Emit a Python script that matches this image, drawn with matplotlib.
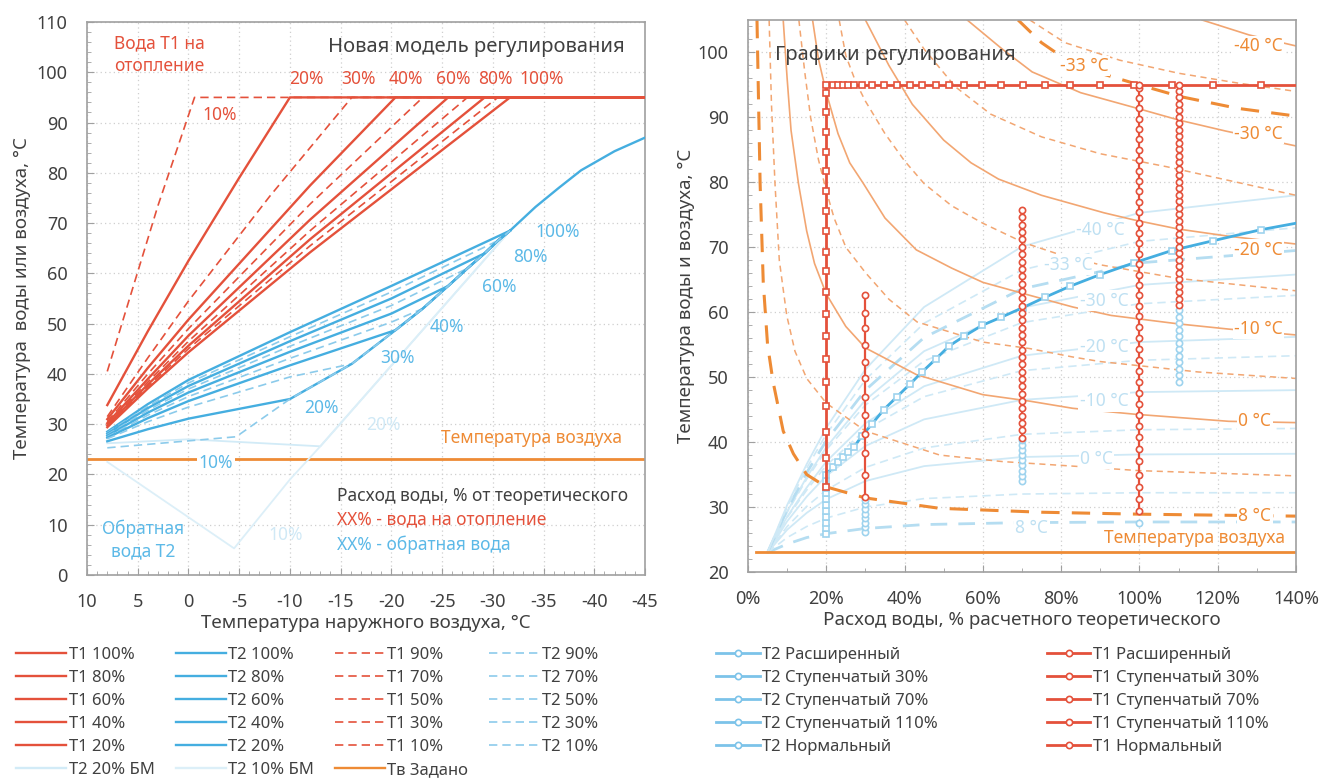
import matplotlib
matplotlib.use('Agg')
import matplotlib.pyplot as plt
from matplotlib.lines import Line2D
from matplotlib.ticker import MultipleLocator, FuncFormatter

plt.rcParams['font.family'] = ['Noto Sans', 'DejaVu Sans']
plt.rcParams['axes.unicode_minus'] = False

RED = '#E4513B'
BLUE = '#45AEE0'
BLUE_D = '#8CCBEB'
BLUE_BM = '#D2EBF7'
ORANGE = '#EE8B35'
ORANGE_T = '#F2A672'
GREY = '#404040'

# ---------------- left chart data: outdoor temp -> water temp ----------------
pcts = [100, 90, 80, 70, 60, 50, 40, 30, 20, 10]

t1_x = {
    100: [8, 4, 0, -12, -31.7, -45],
    90: [8, 4, 0, -12, -30.5, -45],
    80: [8, 4, 0, -12, -29.2, -45],
    70: [8, 4, 0, -12, -27.5, -45],
    60: [8, 4, 0, -12, -25.6, -45],
    50: [8, 4, 0, -12, -23.1, -45],
    40: [8, 4, 0, -12, -20.4, -45],
    30: [8, 4, 0, -8, -16.1, -45],
    20: [8, 4, 0, -5, -10, -45],
    10: [8, 3, -0.6, -45],
}
t1_y = {
    100: [29.4, 37.1, 44.3, 64.2, 95, 95],
    90: [29.6, 37.5, 45.0, 65.5, 95, 95],
    80: [29.8, 37.9, 45.6, 66.8, 95, 95],
    70: [30.0, 38.4, 46.5, 68.5, 95, 95],
    60: [30.2, 39.0, 47.6, 70.7, 95, 95],
    50: [30.5, 40.0, 49.0, 73.8, 95, 95],
    40: [31.0, 41.2, 50.8, 77.5, 95, 95],
    30: [31.5, 43.2, 54.5, 75.3, 95, 95],
    20: [33.8, 48.5, 62.5, 79.0, 95, 95],
    10: [40.5, 73.5, 95, 95],
}

# return water: own part before the kink, then common envelope
env_x = [-10, -16.1, -20.4, -23.1, -25.6, -27.5, -29.2, -30.5, -31.7]
env_y = [35.0, 42.0, 48.7, 53.0, 57.5, 61.0, 64.0, 66.5, 68.5]
t2_x = {
    100: [8, 4, 0, -10, -20, -31.7, -34.2, -36.5, -38.7, -42, -45],
    90: [8, 4, 0, -10, -20, -30.5],
    80: [8, 4, 0, -10, -20, -29.2],
    70: [8, 4, 0, -10, -20, -27.5],
    60: [8, 4, 0, -10, -20, -25.6],
    50: [8, 4, 0, -10, -20, -23.1],
    40: [8, 4, 0, -10, -20.4],
    30: [8, 4, 0, -10, -16.1],
    20: [8, 4, 0, -10],
    10: [8, -4.7, -10],
}
t2_y = {
    100: [28.5, 34.0, 38.8, 48.3, 57.5, 68.5, 73.2, 77.0, 80.5, 84.3, 87.0],
    90: [28.3, 33.6, 38.2, 47.4, 56.3, 66.5],
    80: [28.1, 33.2, 37.6, 46.5, 55.0, 64.0],
    70: [27.9, 32.8, 37.0, 45.5, 53.6, 61.0],
    60: [27.7, 32.3, 36.3, 44.4, 52.0, 57.5],
    50: [27.5, 31.8, 35.5, 43.1, 50.3, 53.0],
    40: [27.3, 31.2, 34.6, 41.7, 48.7],
    30: [27.1, 30.5, 33.4, 39.4, 42.0],
    20: [26.6, 29.0, 31.1, 35.0],
    10: [25.3, 27.5, 35.0],
}

bm20_x = [8, 0, -13, -31.7]
bm20_y = [26.2, 27.0, 25.6, 68.5]
bm10_x = [8, -4.5, -10, -13, -31.7]
bm10_y = [22.5, 5.3, 19.0, 25.6, 68.5]
air_temp = 23

# ---------------- right chart data: flow % -> water temp ----------------
# supply temperature needed at given outdoor temperature (orange family)
or_x = {
    8: [2.3, 3.1, 3.9, 5, 6.4, 9, 11.6, 15, 20, 30, 49, 75, 100, 140],
    5: [5.4, 6, 6.9, 8, 9.9, 12, 15, 20, 30, 49, 65, 83, 100, 140],
    0: [9, 10, 11, 12.9, 15, 17, 20, 25, 30, 43, 60, 72, 83, 98.7, 122.8, 140],
    -5: [13, 14.5, 16, 18, 20, 22, 25, 30, 36, 43.2, 60, 72, 83, 90, 115, 140],
    -10: [16.5, 18, 20, 23, 26, 29.5, 35, 43, 52, 60, 72, 83, 92.8, 110, 122.8, 140],
    -15: [23.3, 25, 27.5, 30, 35, 40, 45, 52, 60, 70.5, 80, 90, 110, 140],
    -20: [30, 33, 36, 42, 50, 57, 64, 75, 91, 98.7, 110, 122.8, 140],
    -25: [40, 45, 53, 62, 75, 90, 107, 125, 140],
    -30: [56, 65, 72.6, 85, 100, 110, 122, 140],
    -33: [69, 75, 81, 90, 100, 110.5, 125, 140],
    -35: [72, 81, 95, 110, 125, 140],
    -40: [116, 128, 140],
}
or_y = {
    8: [105, 79.8, 64.6, 55, 49.3, 41.7, 38.2, 35, 33.1, 31.4, 29.8, 29.2, 28.9, 28.6],
    5: [105, 92, 79.8, 68, 59.5, 54, 49.8, 46, 41.7, 38, 37, 36.3, 35.6, 34.8],
    0: [105, 96, 88, 79.8, 72.5, 67.5, 62.8, 57.8, 54.5, 50.4, 47.3, 46.3, 45.2, 44.3, 43.2, 43],
    -5: [105, 97, 90, 83.5, 78.7, 74.5, 70, 66.1, 62, 58.5, 55.4, 54.4, 53.1, 52.4, 50.8, 49.8],
    -10: [105, 99, 93.8, 87.5, 83, 79.8, 74.5, 69.6, 66.8, 64.6, 62.6, 60.8, 59.5, 58.2, 57.4, 56.5],
    -15: [105, 99.5, 95.5, 92.5, 87.5, 83.3, 79.8, 76.4, 73.7, 70.7, 68.8, 67.3, 65.2, 63.3],
    -20: [105, 101.5, 98, 92, 86.5, 83, 80.5, 78, 75.3, 74.2, 72.8, 71.7, 70.5],
    -25: [105, 100.5, 94.7, 90.5, 87, 84.4, 82.4, 80, 78],
    -30: [105, 100.5, 97, 93.8, 91.3, 89.6, 87.9, 85.6],
    -33: [105, 101.5, 99, 96.8, 95, 93.2, 91.4, 90.2],
    -35: [105, 101.5, 98.8, 96.8, 95.3, 94],
    -40: [105, 102.7, 101],
}
or_style = {8: 'thick', 5: 'dash', 0: 'solid', -5: 'dash', -10: 'solid', -15: 'dash',
            -20: 'solid', -25: 'dash', -30: 'solid', -33: 'thick', -35: 'dash', -40: 'solid'}

# return temperature at given outdoor temperature (light blue family)
bl_x = [5, 10, 15, 20, 30, 45, 70, 100, 140]
bl_y = {
    8: [23, 24.3, 25.3, 25.9, 26.7, 27.3, 27.6, 27.7, 27.7],
    5: [23, 25.3, 27.0, 28.3, 30.0, 31.3, 32.0, 32.2, 32.2],
    0: [23, 26.5, 29.1, 31.2, 34.0, 36.3, 37.7, 38.1, 38.2],
    -5: [23, 27.0, 30.1, 32.6, 36.1, 39.1, 41.2, 41.9, 42.1],
    -10: [23, 27.8, 31.6, 34.8, 39.4, 43.5, 46.5, 47.7, 48.0],
    -15: [23, 28.4, 32.6, 36.4, 41.9, 47.0, 51.0, 52.6, 53.3],
    -20: [23, 28.5, 33.0, 37.0, 42.9, 48.6, 53.3, 55.4, 56.2],
    -25: [23, 29.2, 34.3, 38.8, 45.7, 52.5, 58.4, 61.3, 62.6],
    -30: [23, 29.3, 34.6, 39.2, 46.5, 54.0, 60.7, 64.2, 65.8],
    -33: [23, 29.6, 35.3, 40.2, 48.0, 56.1, 63.6, 67.6, 69.5],
    -35: [23, 30.0, 36.0, 41.2, 49.6, 58.3, 66.5, 70.9, 73.0],
    -40: [23, 30.3, 36.6, 42.2, 51.2, 60.8, 70.1, 75.3, 78.0],
}

# regulation schedules
ras_flows = [21.6, 22.9, 24.2, 25.5, 27.0, 29.2, 31.7, 34.7, 38.1, 41.5, 44.5, 48.0,
             51.4, 55.2, 59.9, 64.6, 70.2, 75.9, 82.3, 90.0, 98.6, 108.3, 118.8, 131.0]
t1_ras_vert = [33.1, 37.5, 41.6, 45.5, 49.3, 52.8, 56.3, 59.7, 63.1, 66.3, 69.3, 72.5,
               75.6, 78.7, 81.7, 84.7, 87.8, 90.8, 93.8, 95.0]
t2_ras_vert = [25.8, 26.7, 27.6, 28.5, 29.4, 30.3, 31.2, 32.1, 33.0, 34.0, 35.0]
t2_ras_curve = [36.1, 36.9, 37.7, 38.4, 39.2, 41.0, 42.8, 45.0, 47.0, 49.0, 50.8, 52.8,
                54.8, 56.3, 58.0, 59.2, 60.7, 62.3, 64.0, 65.8, 67.6, 69.5, 71.0, 72.7]
t2_ras_end = 73.7

t1_st30 = [31.5, 35.0, 38.3, 41.3, 44.2, 47.0, 49.8, 52.4, 54.9, 57.5, 59.9, 62.6]
t2_st30 = [26.2, 26.9, 27.6, 28.3, 29.0, 29.7, 30.4, 31.1]
t1_st70 = [40.7, 41.8, 42.9, 44.0, 45.2, 46.3, 47.4, 48.6, 49.7, 50.8, 52.0, 53.1, 54.2,
           55.4, 56.5, 57.6, 58.8, 59.9, 61.0, 62.2, 63.3, 64.4, 65.6, 66.7, 67.8, 69.0,
           70.1, 71.2, 72.4, 73.5, 74.6, 75.8]
t2_st70 = [34.0, 34.8, 35.6, 36.4, 37.2, 38.0, 38.8, 39.6, 40.3]
t1_st110 = [61.1, 62.1, 63.1, 64.1, 65.1, 66.1, 67.1, 68.1, 69.1, 70.1, 71.1, 72.1, 73.1,
            74.1, 75.1, 76.1, 77.1, 78.1, 79.1, 80.1, 81.1, 82.1, 83.1, 84.1, 85.1, 86.1,
            87.1, 88.1, 89.1, 90.1, 91.1, 92.1, 93.1, 94.1, 95.0]
t2_st110 = [49.3, 50.3, 51.3, 52.3, 53.3, 54.3, 55.3, 56.3, 57.3, 58.3, 59.3, 60.3]
t1_norm = [29.4, 31.2, 33.1, 35.0, 37.1, 39.0, 40.8, 42.5, 44.2, 45.9, 47.6, 49.3, 51.0,
           52.7, 54.4, 56.0, 57.7, 59.4, 61.0, 62.6, 64.2, 65.8, 67.4, 69.0, 70.6, 72.2,
           73.8, 75.4, 77.0, 78.6, 80.2, 81.8, 83.4, 85.0, 86.6, 88.2, 89.8, 91.4, 93.0,
           94.6, 95.0]
t2_norm = [27.5]

# ======================================================================
fig = plt.figure(figsize=(13.22, 7.8), dpi=100)


def style_axes(ax):
    for s in ax.spines.values():
        s.set_color('#A0A0A0')
        s.set_linewidth(1.2)
    ax.grid(True, which='major', linestyle=(0, (1, 2.5)), color='#CFCFCF', lw=0.9)
    ax.set_axisbelow(True)
    ax.tick_params(which='both', direction='in', colors='#A0A0A0', labelcolor=GREY,
                   labelsize=13)
    ax.tick_params(which='major', length=5)
    ax.tick_params(which='minor', length=3)
    ax.tick_params(axis='x', which='major', pad=13)
    ax.tick_params(axis='y', which='major', pad=14)


# ---------------- left ----------------
ax1 = fig.add_axes([0.0658, 0.2628, 0.4221, 0.7090])
ax1.set_xlim(10, -45)
ax1.set_ylim(0, 110)
ax1.xaxis.set_major_locator(MultipleLocator(5))
ax1.xaxis.set_minor_locator(MultipleLocator(1))
ax1.yaxis.set_major_locator(MultipleLocator(10))
ax1.yaxis.set_minor_locator(MultipleLocator(2))
style_axes(ax1)

ax1.axhline(air_temp, color=ORANGE, lw=2, zorder=2)
ax1.plot(bm20_x, bm20_y, color=BLUE_BM, lw=1.3, zorder=2)
ax1.plot(bm10_x, bm10_y, color='#DCEFF8', lw=1.3, zorder=2)

h_t1, h_t2 = {}, {}
for p in pcts:
    solid = p % 20 == 0
    xs = t2_x[p]
    ys = t2_y[p]
    if p != 100:
        last = xs[-1]
        tail = [i for i, e in enumerate(env_x) if e < last - 1e-9]
        xs = xs + [env_x[i] for i in tail]
        ys = ys + [env_y[i] for i in tail]
    if solid:
        h_t2[p], = ax1.plot(xs, ys, color=BLUE, lw=1.7, zorder=3)
        h_t1[p], = ax1.plot(t1_x[p], t1_y[p], color=RED, lw=1.7, zorder=4)
    else:
        h_t2[p], = ax1.plot(xs, ys, color=BLUE_D, lw=1.2, ls=(0, (5, 3)), zorder=3)
        h_t1[p], = ax1.plot(t1_x[p], t1_y[p], color=RED, lw=1.2, ls=(0, (5, 3)), zorder=4)

fs = 12.5
ax1.text(7.3, 107.5, 'Вода Т1 на\nотопление', color=RED, fontsize=fs, va='top',
         ha='left', linespacing=1.3)
ax1.text(-43, 105, 'Новая модель регулирования', color=GREY, fontsize=14.5,
         ha='right', va='center')
for lab, xx in [('20%', -11.6), ('30%', -16.8), ('40%', -21.4), ('60%', -26.1),
                ('80%', -30.3), ('100%', -34.8)]:
    ax1.text(xx, 98.6, lab, color=RED, fontsize=fs, ha='center', va='center')
ax1.text(-3.1, 91.5, '10%', color=RED, fontsize=fs, ha='center', va='center')
for lab, xx, yy in [('100%', -36.4, 68.2), ('80%', -33.7, 63.2), ('60%', -30.6, 57.3),
                    ('40%', -25.5, 49.3), ('30%', -20.6, 43.1), ('20%', -13.1, 33.2)]:
    ax1.text(xx, yy, lab, color='#5CB9E7', fontsize=fs, ha='center', va='center')
ax1.text(-2.7, 22.3, '10%', color='#5CB9E7', fontsize=fs, ha='center', va='center',
         bbox=dict(facecolor='white', edgecolor='none', pad=1.5), zorder=5)
ax1.text(-19.2, 29.8, '20%', color='#D0E9F6', fontsize=fs, ha='center', va='center')
ax1.text(-9.6, 8, '10%', color='#D0E9F6', fontsize=fs, ha='center', va='center')
ax1.text(-33.8, 27.2, 'Температура воздуха', color=ORANGE, fontsize=fs, ha='center',
         va='center')
ax1.text(-14.6, 15.7, 'Расход воды, % от теоретического', color=GREY, fontsize=fs,
         ha='left', va='center')
ax1.text(-14.6, 11.0, 'XX% - вода на отопление', color=RED, fontsize=fs, ha='left',
         va='center')
ax1.text(-14.6, 6.1, 'XX% - обратная вода', color='#5CB9E7', fontsize=fs, ha='left',
         va='center')
ax1.text(4.5, 7.0, 'Обратная\nвода Т2', color='#5CB9E7', fontsize=fs, ha='center',
         va='center', linespacing=1.3)

ax1.set_xlabel('Температура наружного воздуха, °C', fontsize=13.5, color=GREY,
               labelpad=2)
ax1.set_ylabel('Температура  воды или воздуха, °C', fontsize=13.5, color=GREY,
               labelpad=4)

# left legend, column-major so the rows read like the original
h_bm20 = Line2D([], [], color=BLUE_BM, lw=1.7)
h_bm10 = Line2D([], [], color='#DCEFF8', lw=1.7)
h_air = Line2D([], [], color=ORANGE, lw=1.7)
leg_h = [h_t1[100], h_t1[80], h_t1[60], h_t1[40], h_t1[20], h_bm20,
         h_t2[100], h_t2[80], h_t2[60], h_t2[40], h_t2[20], h_bm10,
         h_t1[90], h_t1[70], h_t1[50], h_t1[30], h_t1[10], h_air,
         h_t2[90], h_t2[70], h_t2[50], h_t2[30], h_t2[10]]
leg_l = ['T1 100%', 'T1 80%', 'T1 60%', 'T1 40%', 'T1 20%', 'T2 20% БМ',
         'T2 100%', 'T2 80%', 'T2 60%', 'T2 40%', 'T2 20%', 'T2 10% БМ',
         'T1 90%', 'T1 70%', 'T1 50%', 'T1 30%', 'T1 10%', 'Тв Задано',
         'T2 90%', 'T2 70%', 'T2 50%', 'T2 30%', 'T2 10%']
fig.legend(leg_h, leg_l, loc='upper left', bbox_to_anchor=(8 / 1322, 1 - 639 / 780),
           ncol=4, frameon=False, fontsize=12, handlelength=3.0, handletextpad=0.15,
           columnspacing=1.25, labelspacing=0.42, borderpad=0, labelcolor=GREY)

# ---------------- right ----------------
ax2 = fig.add_axes([0.5658, 0.2667, 0.4145, 0.7077])
ax2.set_xlim(0, 140)
ax2.set_ylim(20, 105)
ax2.xaxis.set_major_locator(MultipleLocator(20))
ax2.xaxis.set_minor_locator(MultipleLocator(10))
ax2.yaxis.set_major_locator(MultipleLocator(10))
ax2.yaxis.set_minor_locator(MultipleLocator(2))
ax2.xaxis.set_major_formatter(FuncFormatter(lambda v, _: f'{v:.0f}%'))
style_axes(ax2)

for t, ys in bl_y.items():
    st = or_style[t]
    if st == 'thick':
        ax2.plot(bl_x, ys, color='#B5DDF1', lw=2.0, ls=(0, (6, 4)), zorder=1)
    elif st == 'dash':
        ax2.plot(bl_x, ys, color='#CFE9F6', lw=1.2, ls=(0, (5, 3)), zorder=1)
    else:
        ax2.plot(bl_x, ys, color='#CFE9F6', lw=1.3, zorder=1)

for t in or_x:
    st = or_style[t]
    if st == 'thick':
        ax2.plot(or_x[t], or_y[t], color=ORANGE, lw=2.2, ls=(0, (6, 4)), zorder=1.5)
    elif st == 'dash':
        ax2.plot(or_x[t], or_y[t], color=ORANGE_T, lw=1.1, ls=(0, (4, 3)), zorder=1.5)
    else:
        ax2.plot(or_x[t], or_y[t], color=ORANGE_T, lw=1.2, zorder=1.5)

ax2.plot([2, 140], [air_temp, air_temp], color=ORANGE, lw=2, zorder=2)

lbl_box = dict(facecolor='white', edgecolor='none', pad=1.0)
for lab, xx, yy in [('-40 °C', 130.5, 101.0), ('-30 °C', 130.5, 87.5),
                    ('-20 °C', 130.5, 69.6), ('-10 °C', 130.5, 57.4),
                    ('0 °C', 129.5, 43.3), ('8 °C', 129.5, 28.6), ('-33 °C', 86, 97.9)]:
    ax2.text(xx, yy, lab, color=ORANGE, fontsize=12.5, ha='center', va='center',
             bbox=lbl_box, zorder=3)
for lab, xx, yy in [('-40 °C', 90, 72.7), ('-33 °C', 81.8, 67.3), ('-30 °C', 91, 61.8),
                    ('-20 °C', 91, 54.7), ('-10 °C', 91, 46.3), ('0 °C', 89, 37.4),
                    ('8 °C', 72.5, 26.8)]:
    ax2.text(xx, yy, lab, color='#BEE0F2', fontsize=12.5, ha='center', va='center',
             bbox=lbl_box, zorder=3)
ax2.text(114, 25.3, 'Температура воздуха', color=ORANGE, fontsize=12.5, ha='center',
         va='center', zorder=3)
ax2.text(7, 99.6, 'Графики регулирования', color=GREY, fontsize=14.5, ha='left',
         va='center', zorder=3)

mk = dict(markerfacecolor='white', markeredgewidth=1.2)
lb = '#9ED3EE'
h_b_ras, = ax2.plot([20] * len(t2_ras_vert) + ras_flows + [140],
                    t2_ras_vert + t2_ras_curve + [t2_ras_end],
                    color=BLUE, lw=2.0, marker='s', ms=4.5, markeredgecolor=lb,
                    markevery=slice(0, -1), zorder=4, **mk)
h_b_30, = ax2.plot([30] * len(t2_st30), t2_st30, color=lb, lw=1.5, marker='o', ms=4.5,
                   markeredgecolor=lb, zorder=4, **mk)
h_b_70, = ax2.plot([70] * len(t2_st70), t2_st70, color=lb, lw=1.5, marker='o', ms=4.5,
                   markeredgecolor=lb, zorder=4, **mk)
h_b_110, = ax2.plot([110] * len(t2_st110), t2_st110, color=lb, lw=1.5, marker='o',
                    ms=4.5, markeredgecolor=lb, zorder=4, **mk)
h_b_norm, = ax2.plot([100] * len(t2_norm), t2_norm, color=lb, lw=1.5, marker='o', ms=4.5,
                     markeredgecolor=lb, zorder=4, **mk)

h_r_ras, = ax2.plot([20] * len(t1_ras_vert) + ras_flows + [140],
                    t1_ras_vert + [95.0] * len(ras_flows) + [95.0],
                    color=RED, lw=2.0, marker='s', ms=5, markeredgecolor=RED,
                    markevery=slice(0, -1), zorder=6, **mk)
h_r_30, = ax2.plot([30] * len(t1_st30), t1_st30, color=RED, lw=1.6, marker='o', ms=4.5,
                   markeredgecolor=RED, zorder=6, **mk)
h_r_70, = ax2.plot([70] * len(t1_st70), t1_st70, color=RED, lw=1.6, marker='o', ms=4.5,
                   markeredgecolor=RED, zorder=6, **mk)
h_r_110, = ax2.plot([110] * len(t1_st110), t1_st110, color=RED, lw=1.6, marker='o',
                    ms=4.5, markeredgecolor=RED, zorder=6, **mk)
h_r_norm, = ax2.plot([100] * len(t1_norm), t1_norm, color=RED, lw=1.6, marker='o', ms=4.5,
                     markeredgecolor=RED, zorder=6, **mk)

ax2.set_xlabel('Расход воды, % расчетного теоретического', fontsize=13.5, color=GREY,
               labelpad=2)
ax2.set_ylabel('Температура воды и воздуха, °C', fontsize=13.5, color=GREY, labelpad=2)

lg_b = Line2D([], [], color='#7CC3E9', lw=2, marker='o', ms=4.5, markeredgecolor='#7CC3E9', **mk)
lg_r = Line2D([], [], color=RED, lw=2, marker='o', ms=4.5, markeredgecolor=RED, **mk)
fig.legend([lg_b] * 5 + [lg_r] * 5,
           ['T2 Расширенный', 'T2 Ступенчатый 30%', 'T2 Ступенчатый 70%',
            'T2 Ступенчатый 110%', 'T2 Нормальный',
            'T1 Расширенный', 'T1 Ступенчатый 30%', 'T1 Ступенчатый 70%',
            'T1 Ступенчатый 110%', 'T1 Нормальный'],
           loc='upper left', bbox_to_anchor=(708 / 1322, 1 - 639 / 780), ncol=2,
           frameon=False, fontsize=12, handlelength=2.6, handletextpad=0.15,
           columnspacing=6.55, labelspacing=0.42, borderpad=0, labelcolor=GREY)

fig.savefig('out.png', dpi=100)
